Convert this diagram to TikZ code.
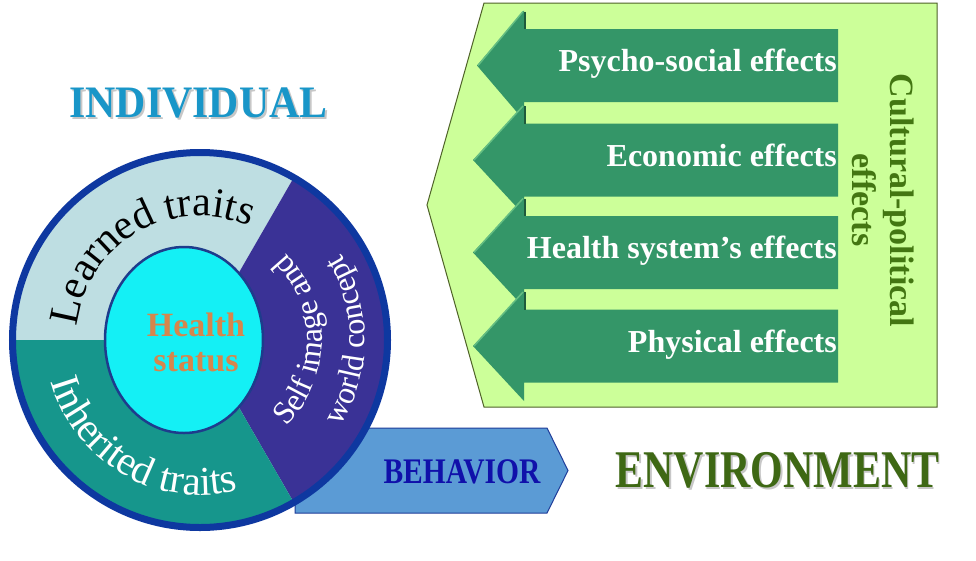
\documentclass[tikz,border=0pt]{standalone}
\usepackage{fontspec}
\setmainfont{Liberation Serif}
\usepackage{graphicx}
\usetikzlibrary{decorations.text}
\definecolor{learned}{RGB}{190,222,226}
\definecolor{inherit}{RGB}{22,150,140}
\definecolor{selfc}{RGB}{58,50,150}
\definecolor{ringc}{RGB}{14,56,160}
\definecolor{cyanc}{RGB}{20,240,245}
\definecolor{innerb}{RGB}{30,60,140}
\definecolor{healthc}{RGB}{214,134,76}
\definecolor{indivc}{RGB}{25,150,200}
\definecolor{behavfill}{RGB}{91,155,213}
\definecolor{behavline}{RGB}{31,60,153}
\definecolor{behavtext}{RGB}{16,16,170}
\definecolor{panelfill}{RGB}{204,255,153}
\definecolor{panelline}{RGB}{79,98,40}
\definecolor{arrowg}{RGB}{52,150,104}
\definecolor{arrowhi}{RGB}{100,190,130}
\definecolor{arrowsh}{RGB}{30,90,60}
\definecolor{cpc}{RGB}{67,118,18}
\definecolor{envc}{RGB}{62,104,20}
\newcommand\shadowtext[2]{\makebox[0pt][l]{\hspace{2pt}\raisebox{-2pt}{\color{black!22}#2}}{\color{#1}#2}}
\tikzset{
  efftext/.style={font=\fontsize{32}{32}\selectfont\bfseries, text=white, inner sep=0pt},
  cptext/.style={font=\fontsize{34}{34}\selectfont\bfseries, text=cpc, inner sep=0pt, rotate=-90, anchor=base},
  healthtext/.style={font=\fontsize{34}{34}\selectfont\bfseries, text=healthc, inner sep=0pt, anchor=base},
  effarrow/.style={fill=arrowg},
  arctext/.style={decorate, decoration={text along path, text align=center, text color=#1}},
}
\begin{document}
\begin{tikzpicture}[x=1pt,y=1pt]
\useasboundingbox (0,0) rectangle (976,-560);
\fill[white] (0,0) rectangle (976,-560);

% environment panel
\draw[fill=panelfill, draw=panelline, line width=1pt] (484,-3) -- (937,-3) -- (937,-407) -- (484,-407) -- (427,-205) -- cycle;

\foreach \cy/\tx/\txt/\nm in {65.5/477/Psycho-social effects/ps, 160/473/Economic effects/ec, 252.5/473/Health system’s effects/hs, 346/473/Physical effects/ph} {
  \fill[effarrow] (838,{-\cy+36.5}) -- (524,{-\cy+36.5}) -- (524,{-\cy+55}) -- (\tx,-\cy) -- (524,{-\cy-55}) -- (524,{-\cy-36.5}) -- (838,{-\cy-36.5}) -- cycle;
  \draw[arrowhi, line width=1.5pt] (523,{-\cy+54}) -- ({\tx+1},-\cy);
  \draw[arrowsh, line width=1.2pt] (525,{-\cy+54}) -- (525,{-\cy+36.5});
  \node[efftext, anchor=base east] (\nm) at (837,{-\cy-6}) {\txt};
}

\node[cptext] (cp1) at (890,-200.5) {Cultural-political};
\node[cptext] (cp2) at (852,-200) {effects};

% behavior arrow
\draw[fill=behavfill, draw=behavline, line width=1pt] (295,-428) -- (547,-428) -- (568,-470.5) -- (547,-513) -- (295,-513) -- cycle;
\node[font=\fontsize{36}{36}\selectfont\bfseries, text=behavtext, inner sep=0pt, anchor=base] (behav) at (462,-483) {\scalebox{0.82}[1]{BEHAVIOR}};

% individual circle
\coordinate (C) at (200,-340);
\fill[learned] (C) -- ++(60:187) arc[start angle=60, end angle=180, radius=187] -- cycle;
\fill[selfc] (C) -- ++(-60:187) arc[start angle=-60, end angle=60, radius=187] -- cycle;
\fill[inherit] (C) -- ++(180:187) arc[start angle=180, end angle=300, radius=187] -- cycle;
\draw[ringc, line width=7pt] (C) circle[radius=187.5];
\draw[fill=cyanc, draw=innerb, line width=2.5pt] (184,-340) ellipse[x radius=79, y radius=93];

\path[arctext=black, decoration={text={|\fontsize{42}{42}\selectfont|Learned traits}}] (76,-340) arc[start angle=180, end angle=60, radius=124];
\path[arctext=white, decoration={text={|\fontsize{41}{41}\selectfont|Inherited traits}}] (45,-340) arc[start angle=180, end angle=300, radius=155];
\path[arctext=white, decoration={text={|\fontsize{32}{32}\selectfont|Self image and}}] (261,-445.66) arc[start angle=-60, end angle=60, radius=122];
\path[arctext=white, decoration={text={|\fontsize{32}{32}\selectfont|world concept}}] (282.5,-482.89) arc[start angle=-60, end angle=60, radius=165];

\node[healthtext] (h1) at (196,-336) {Health};
\node[healthtext] (h2) at (196,-371) {status};

% titles
\node[font=\fontsize{45}{45}\selectfont\bfseries, inner sep=0pt, anchor=base] (indiv) at (198.5,-117) {\scalebox{0.93}[1]{\shadowtext{indivc}{INDIVIDUAL}}};
\node[font=\fontsize{53}{53}\selectfont\bfseries, inner sep=0pt, anchor=base] (env) at (777.5,-487) {\scalebox{0.79}[1]{\shadowtext{envc}{ENVIRONMENT}}};
\end{tikzpicture}
\end{document}
